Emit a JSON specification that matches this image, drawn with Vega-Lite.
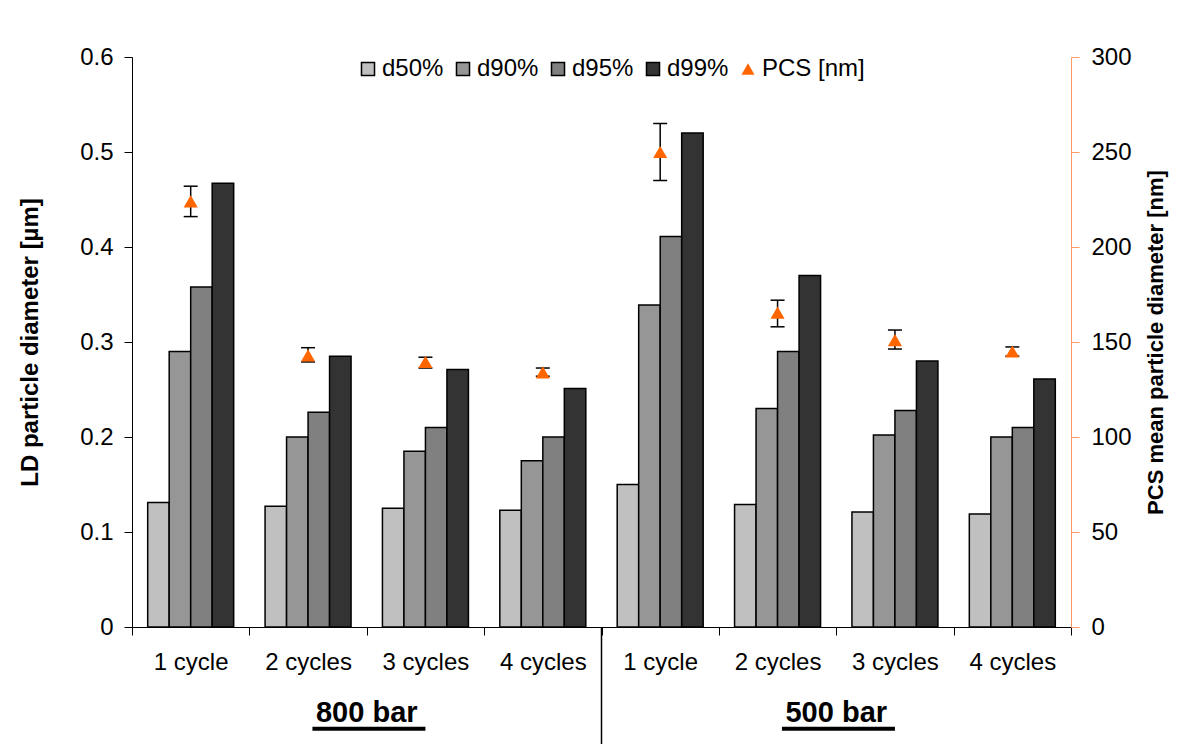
{
  "$schema": "https://vega.github.io/schema/vega-lite/v6.json",
  "width": 939,
  "height": 570,
  "autosize": {"type": "none"},
  "padding": {"left": 132, "top": 57, "right": 121, "bottom": 117},
  "background": "white",
  "datasets": {
    "bars": [
      {"g": 1, "series": "d50%", "v": 0.131}, {"g": 1, "series": "d90%", "v": 0.29}, {"g": 1, "series": "d95%", "v": 0.358}, {"g": 1, "series": "d99%", "v": 0.467},
      {"g": 2, "series": "d50%", "v": 0.127}, {"g": 2, "series": "d90%", "v": 0.2}, {"g": 2, "series": "d95%", "v": 0.226}, {"g": 2, "series": "d99%", "v": 0.285},
      {"g": 3, "series": "d50%", "v": 0.125}, {"g": 3, "series": "d90%", "v": 0.185}, {"g": 3, "series": "d95%", "v": 0.21}, {"g": 3, "series": "d99%", "v": 0.271},
      {"g": 4, "series": "d50%", "v": 0.123}, {"g": 4, "series": "d90%", "v": 0.175}, {"g": 4, "series": "d95%", "v": 0.2}, {"g": 4, "series": "d99%", "v": 0.251},
      {"g": 5, "series": "d50%", "v": 0.15}, {"g": 5, "series": "d90%", "v": 0.339}, {"g": 5, "series": "d95%", "v": 0.411}, {"g": 5, "series": "d99%", "v": 0.52},
      {"g": 6, "series": "d50%", "v": 0.129}, {"g": 6, "series": "d90%", "v": 0.23}, {"g": 6, "series": "d95%", "v": 0.29}, {"g": 6, "series": "d99%", "v": 0.37},
      {"g": 7, "series": "d50%", "v": 0.121}, {"g": 7, "series": "d90%", "v": 0.202}, {"g": 7, "series": "d95%", "v": 0.228}, {"g": 7, "series": "d99%", "v": 0.28},
      {"g": 8, "series": "d50%", "v": 0.119}, {"g": 8, "series": "d90%", "v": 0.2}, {"g": 8, "series": "d95%", "v": 0.21}, {"g": 8, "series": "d99%", "v": 0.261}
    ],
    "pcs": [
      {"g": 1, "pcs": 224, "lo": 216, "hi": 232},
      {"g": 2, "pcs": 143, "lo": 139.5, "hi": 147},
      {"g": 3, "pcs": 139.5, "lo": 136.3, "hi": 142},
      {"g": 4, "pcs": 134, "lo": 132, "hi": 136.3},
      {"g": 5, "pcs": 250, "lo": 235, "hi": 265},
      {"g": 6, "pcs": 165.5, "lo": 158, "hi": 172},
      {"g": 7, "pcs": 151, "lo": 146.3, "hi": 156.3},
      {"g": 8, "pcs": 145, "lo": 142.6, "hi": 147.4}
    ],
    "grp": [
      {"g": 3, "label": "800 bar"},
      {"g": 7, "label": "500 bar"}
    ],
    "sep": [
      {"g": 5}
    ]
  },
  "config": {
    "view": {"stroke": null},
    "font": "Liberation Sans",
    "axis": {
      "labelFont": "Liberation Sans",
      "labelFontSize": 24,
      "labelColor": "black",
      "titleFont": "Liberation Sans",
      "titleFontSize": 22,
      "titleFontWeight": "bold",
      "titleColor": "black",
      "domainColor": "black",
      "tickColor": "black",
      "grid": false,
      "domainWidth": 1,
      "tickWidth": 1,
      "tickSize": 8,
      "labelPadding": 11
    }
  },
  "layer": [
    {
      "layer": [
        {
          "data": {"name": "bars"},
          "mark": {"type": "bar", "stroke": "black", "strokeWidth": 1.5},
          "encoding": {
            "x": {
              "field": "g",
              "type": "ordinal",
              "title": null,
              "scale": {"paddingInner": 0, "paddingOuter": 0},
              "axis": {
                "labelExpr": "['1 cycle','2 cycles','3 cycles','4 cycles'][(datum.value-1)%4]",
                "tickBand": "extent",
                "labelAngle": 0,
                "labelPadding": 15
              }
            },
            "xOffset": {
              "field": "series",
              "type": "nominal",
              "scale": {"domain": ["d50%", "d90%", "d95%", "d99%"], "paddingOuter": 0.73, "paddingInner": 0}
            },
            "y": {
              "field": "v",
              "type": "quantitative",
              "title": "LD particle diameter [µm]",
              "scale": {"domain": [0, 0.6]},
              "axis": {
                "orient": "left",
                "values": [0, 0.1, 0.2, 0.3, 0.4, 0.5, 0.6],
                "format": ".1~f",
                "titlePadding": 37,
                "titleFontSize": 24
              }
            },
            "fill": {
              "field": "series",
              "type": "nominal",
              "scale": {
                "domain": ["d50%", "d90%", "d95%", "d99%", "PCS [nm]"],
                "range": ["#C0C0C0", "#969696", "#808080", "#333333", "#FF6600"]
              },
              "legend": {
                "title": null,
                "orient": "none",
                "legendX": 224,
                "legendY": 0,
                "direction": "horizontal",
                "symbolType": "square",
                "symbolSize": 170,
                "symbolStrokeWidth": 1.5,
                "symbolStrokeColor": "black",
                "labelFont": "Liberation Sans",
                "labelFontSize": 24,
                "labelColor": "black",
                "labelOffset": 2,
                "columnPadding": 7,
                "padding": 0,
                "encode": {
                  "symbols": {
                    "update": {
                      "shape": {"signal": "datum.value === 'PCS [nm]' ? 'triangle-up' : 'square'"},
                      "stroke": {"signal": "datum.value === 'PCS [nm]' ? 'transparent' : 'black'"}
                    }
                  }
                }
              }
            }
          }
        },
        {
          "data": {"name": "sep"},
          "mark": {"type": "rule", "color": "black", "strokeWidth": 1.5},
          "encoding": {
            "x": {"field": "g", "type": "ordinal", "bandPosition": 0, "title": null},
            "y": {"datum": 0},
            "y2": {"datum": -0.125}
          }
        },
        {
          "data": {"name": "grp"},
          "mark": {"type": "text", "fontSize": 29, "fontWeight": "bold", "baseline": "alphabetic", "align": "center", "font": "Liberation Sans", "color": "black"},
          "encoding": {
            "x": {"field": "g", "type": "ordinal", "bandPosition": 0, "title": null},
            "y": {"datum": -0.1},
            "text": {"field": "label"}
          }
        },
        {
          "data": {"name": "grp"},
          "mark": {"type": "tick", "color": "black", "thickness": 4, "size": 113, "orient": "horizontal", "opacity": 1, "xOffset": -56.5},
          "encoding": {
            "x": {"field": "g", "type": "ordinal", "bandPosition": 0, "title": null},
            "y": {"datum": -0.107}
          }
        }
      ]
    },
    {
      "layer": [
        {
          "data": {"name": "pcs"},
          "mark": {"type": "rule", "color": "black", "strokeWidth": 1.5},
          "encoding": {
            "x": {"field": "g", "type": "ordinal", "title": null},
            "y": {
              "field": "lo",
              "type": "quantitative",
              "title": "PCS mean particle diameter [nm]",
              "scale": {"domain": [0, 300]},
              "axis": {
                "orient": "right",
                "values": [0, 50, 100, 150, 200, 250, 300],
                "domainColor": "#FF9966",
                "tickColor": "#FF9966",
                "titleAngle": -90,
                "titleBaseline": "top",
                "titlePadding": 14,
                "labelPadding": 12
              }
            },
            "y2": {"field": "hi"}
          }
        },
        {
          "data": {"name": "pcs"},
          "mark": {"type": "tick", "color": "black", "thickness": 1.5, "size": 14, "orient": "horizontal", "opacity": 1},
          "encoding": {
            "x": {"field": "g", "type": "ordinal", "title": null},
            "y": {"field": "lo", "type": "quantitative", "title": "PCS mean particle diameter [nm]"}
          }
        },
        {
          "data": {"name": "pcs"},
          "mark": {"type": "tick", "color": "black", "thickness": 1.5, "size": 14, "orient": "horizontal", "opacity": 1},
          "encoding": {
            "x": {"field": "g", "type": "ordinal", "title": null},
            "y": {"field": "hi", "type": "quantitative", "title": "PCS mean particle diameter [nm]"}
          }
        },
        {
          "data": {"name": "pcs"},
          "mark": {"type": "point", "shape": "triangle-up", "filled": true, "fill": "#FF6600", "size": 200, "opacity": 1, "strokeWidth": 0},
          "encoding": {
            "x": {"field": "g", "type": "ordinal", "title": null},
            "y": {"field": "pcs", "type": "quantitative", "title": "PCS mean particle diameter [nm]"}
          }
        }
      ]
    }
  ],
  "resolve": {"scale": {"y": "independent"}}
}
